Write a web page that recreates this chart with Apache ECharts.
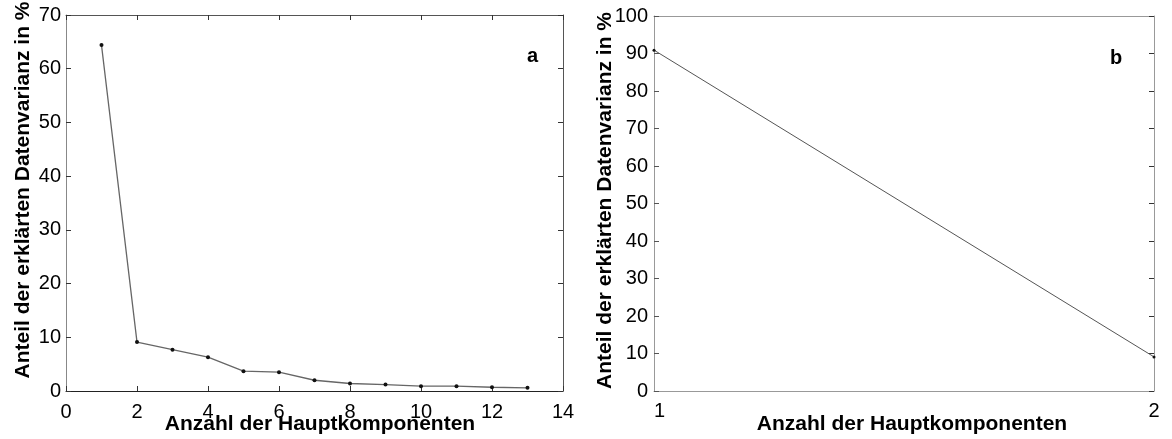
<!DOCTYPE html>
<html>
<head>
<meta charset="utf-8">
<script src="https://cdn.jsdelivr.net/npm/echarts@6/dist/echarts.min.js"></script>
<style>
html,body{margin:0;padding:0;background:#fff;}
#chart{width:1172px;height:439px;}
</style>
</head>
<body>
<div id="chart"></div>
<script>
// ---- data ----
const componentsA = [1, 2, 3, 4, 5, 6, 7, 8, 9, 10, 11, 12, 13];
const varianceA = [64.4, 9.1, 7.7, 6.3, 3.7, 3.5, 2.0, 1.4, 1.2, 0.9, 0.9, 0.7, 0.6];
const componentsB = [1, 2];
const varianceB = [90.9, 9.1];
const yName = 'Anteil der erklärten Datenvarianz in %';
const xName = 'Anzahl der Hauptkomponenten';
const panelLabels = ['a', 'b'];

const font = 'Liberation Sans, Arial, sans-serif';
const chart = echarts.init(document.getElementById('chart'));

function mirrorX(grid, min, max, interval, color) {
  return {type: 'value', gridIndex: grid, position: 'top', min, max, interval,
    axisLine: {show: true, onZero: false, lineStyle: {color, width: 1}},
    axisTick: {show: true, inside: true, length: 5, lineStyle: {color: '#333'}},
    axisLabel: {show: false}, splitLine: {show: false}};
}
function mirrorY(grid, min, max, interval, color) {
  return {type: 'value', gridIndex: grid, position: 'right', min, max, interval,
    axisLine: {show: true, onZero: false, lineStyle: {color, width: 1}},
    axisTick: {show: true, inside: true, length: 5, lineStyle: {color: '#333'}},
    axisLabel: {show: false}, splitLine: {show: false}};
}

const option = {
  animation: false,
  backgroundColor: '#fff',
  textStyle: {fontFamily: font},
  grid: [
    {left: 66, top: 15, width: 497, height: 376, containLabel: false, outerBoundsMode: 'none'},
    {left: 654, top: 16, width: 500, height: 375, containLabel: false, outerBoundsMode: 'none'}
  ],
  xAxis: [
    {type: 'value', gridIndex: 0, min: 0, max: 14, interval: 2,
      name: xName, nameLocation: 'middle', nameGap: 23, nameMoveOverlap: false,
      nameTextStyle: {fontFamily: font, fontWeight: 'bold', fontSize: 21, color: '#000', padding: [0, 0, 0, 11]},
      axisLine: {show: true, onZero: false, lineStyle: {color: '#222', width: 1}},
      axisTick: {show: true, inside: true, length: 5, lineStyle: {color: '#333'}},
      axisLabel: {fontFamily: font, fontSize: 20, color: '#000', margin: 11},
      splitLine: {show: false}},
    {type: 'value', gridIndex: 1, min: 1, max: 2, interval: 1,
      name: xName, nameLocation: 'middle', nameGap: 23, nameMoveOverlap: false,
      nameTextStyle: {fontFamily: font, fontWeight: 'bold', fontSize: 21, color: '#000', padding: [0, 0, 0, 16]},
      axisLine: {show: true, onZero: false, lineStyle: {color: '#999', width: 1}},
      axisTick: {show: false},
      axisLabel: {fontFamily: font, fontSize: 20, color: '#000', margin: 10, alignMinLabel: 'left'},
      splitLine: {show: false}},
    mirrorX(0, 0, 14, 2, '#555'),
    Object.assign(mirrorX(1, 1, 2, 1, '#999'), {axisTick: {show: false}})
  ],
  yAxis: [
    {type: 'value', gridIndex: 0, min: 0, max: 70, interval: 10,
      name: yName, nameLocation: 'middle', nameGap: 32, nameMoveOverlap: false,
      nameTextStyle: {fontFamily: font, fontWeight: 'bold', fontSize: 21, color: '#000', padding: [0, 0, 0, 26]},
      axisLine: {show: true, onZero: false, lineStyle: {color: '#888', width: 1}},
      axisTick: {show: true, inside: true, length: 5, lineStyle: {color: '#333'}},
      axisLabel: {fontFamily: font, fontSize: 20, color: '#000', margin: 5},
      splitLine: {show: false}},
    {type: 'value', gridIndex: 1, min: 0, max: 100, interval: 10,
      name: yName, nameLocation: 'middle', nameGap: 38, nameMoveOverlap: false,
      nameTextStyle: {fontFamily: font, fontWeight: 'bold', fontSize: 21, color: '#000', padding: [0, 0, 0, 6]},
      axisLine: {show: true, onZero: false, lineStyle: {color: '#999', width: 1}},
      axisTick: {show: true, inside: true, length: 5, lineStyle: {color: '#555'}},
      axisLabel: {fontFamily: font, fontSize: 20, color: '#000', margin: 6},
      splitLine: {show: false}},
    mirrorY(0, 0, 70, 10, '#555'),
    mirrorY(1, 0, 100, 10, '#999')
  ],
  series: [
    {type: 'line', xAxisIndex: 0, yAxisIndex: 0,
      data: componentsA.map((c, i) => [c, varianceA[i]]),
      symbol: 'circle', symbolSize: 4,
      itemStyle: {color: '#111'},
      lineStyle: {color: '#666', width: 1.3}},
    {type: 'line', xAxisIndex: 1, yAxisIndex: 1,
      data: componentsB.map((c, i) => [c, varianceB[i]]),
      symbol: 'circle', symbolSize: 3,
      itemStyle: {color: '#111'},
      lineStyle: {color: '#555', width: 1}}
  ],
  graphic: [
    {type: 'text', left: 527, top: 46, style: {text: panelLabels[0], fontFamily: font, fontWeight: 'bold', fontSize: 20, fill: '#000'}},
    {type: 'text', left: 1110, top: 48, style: {text: panelLabels[1], fontFamily: font, fontWeight: 'bold', fontSize: 20, fill: '#000'}}
  ]
};
chart.setOption(option);
</script>
</body>
</html>
